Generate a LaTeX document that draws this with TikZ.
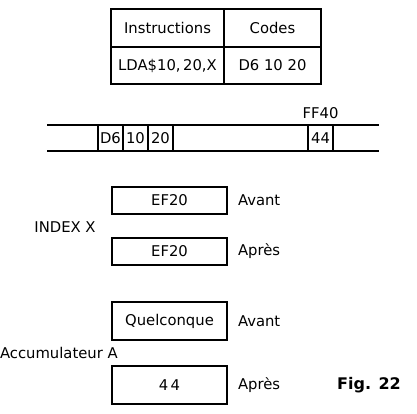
\documentclass[tikz,border=0pt]{standalone}
\usepackage{fontspec}
\setmainfont{DejaVu Sans}
\usetikzlibrary{positioning}

\begin{document}
\begin{tikzpicture}[x=1pt, y=-1pt, line width=1.4pt,
  every node/.style={font=\fontsize{14.8}{17}\selectfont, inner sep=0pt, outer sep=0pt},
  tcell/.style={draw, minimum height=38pt, anchor=north west},
  mcell/.style={draw, minimum width=25pt, minimum height=26pt, anchor=north west},
  reg/.style={draw, minimum width=115pt, anchor=north west},
  lbl/.style={anchor=west}]
\useasboundingbox (0,0) rectangle (417,414);

% table instructions / codes
\node[tcell, minimum width=113pt] (instr) at (111,9) {Instructions};
\node[tcell, minimum width=97pt] (codes) at (instr.north east) {Codes};
\node[tcell, minimum width=113pt, minimum height=37pt] (lda) at (instr.south west) {LDA\$10,\,20,X};
\node[tcell, minimum width=97pt, minimum height=37pt] (dcode) at (lda.north east) {D6 10 20};

% memory strip
\coordinate (mtl) at (47,125); \coordinate (mtr) at (379,125);
\coordinate (mbl) at (47,151); \coordinate (mbr) at (379,151);
\draw (mtl)--(mtr); \draw (mbl)--(mbr);
\node[mcell] (m1) at (98,125) {D6};
\node[mcell] (m2) at (m1.north east) {10};
\node[mcell] (m3) at (m2.north east) {20};
\node[mcell] (m44) at (308,125) {44};
\node[above=6pt of m44] (ff) {FF40};

% index X
\node[reg, minimum height=27pt] (xav) at (112,187) {EF20};
\node[reg, minimum height=27pt] (xap) at (112,238) {EF20};
\node[lbl, right=11pt of xav] (t1) {Avant};
\node[lbl, right=11pt of xap] (t2) {Après};
\node (idx) at (65,227) {INDEX X};

% accumulateur A
\node[reg, minimum height=38pt] (aav) at (112,302) {Quelconque};
\node[reg, minimum height=38pt] (aap) at (112,366) {4\,4};
\node[lbl, right=11pt of aav] (t3) {Avant};
\node[lbl, right=11pt of aap] (t4) {Après};
\node[anchor=west] (acc) at (0,353) {Accumulateur A};

\node[font=\fontsize{16}{18}\selectfont\bfseries] (fig) at (369,385) {Fig. 22};
\end{tikzpicture}
\end{document}
